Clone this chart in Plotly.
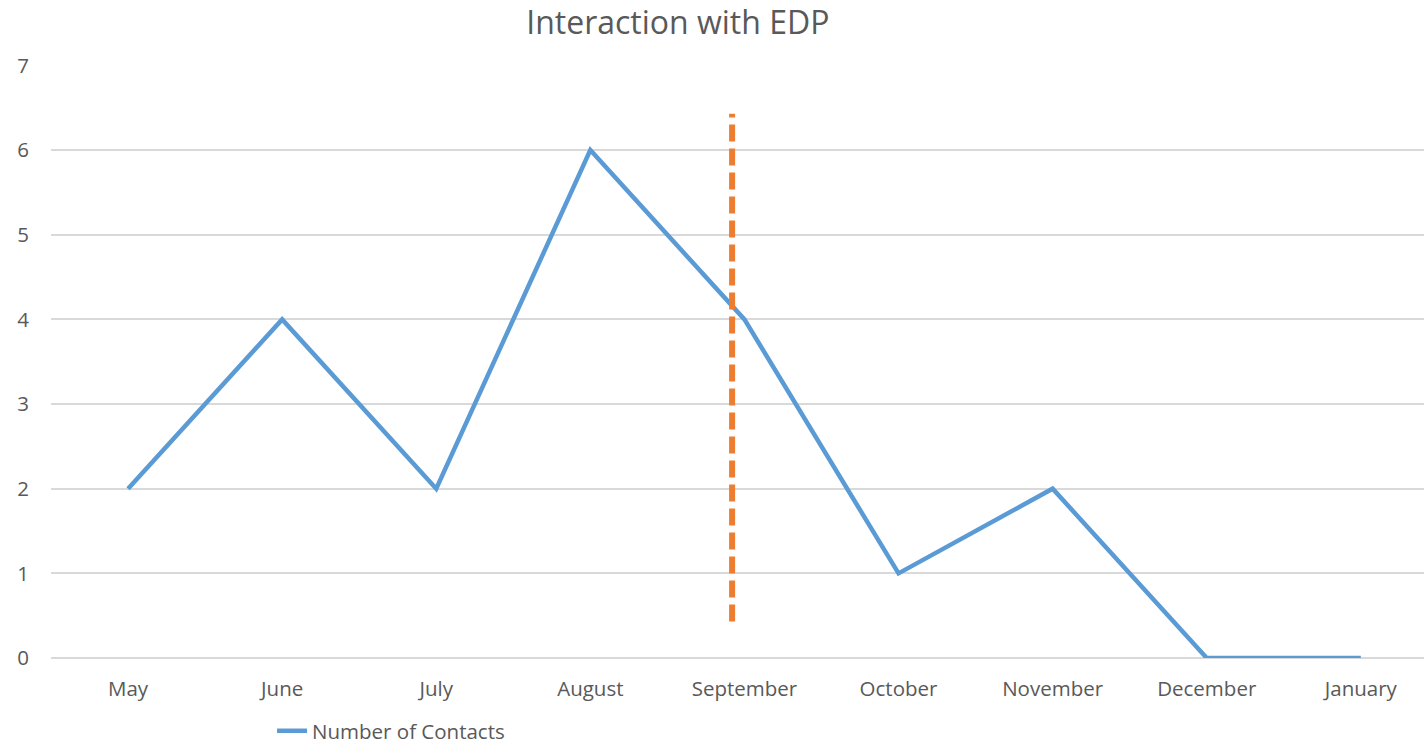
import plotly.graph_objects as go

months = ["May", "June", "July", "August", "September", "October", "November", "December", "January"]
contacts = [2, 4, 2, 6, 4, 1, 2, 0, 0]
marker_x = [3.92, 3.92]
marker_y = [0.43, 6.43]
y_ticks = [0, 1, 2, 3, 4, 5, 6, 7]

FONT = "Open Sans"
GREY = "#595959"

fig = go.Figure()
fig.add_trace(go.Scatter(
    x=list(range(len(months))), y=contacts, mode="lines",
    name="Number of Contacts",
    line=dict(color="#5B9BD5", width=4.5),
))
fig.add_trace(go.Scatter(
    x=marker_x, y=marker_y, mode="lines", showlegend=False,
    line=dict(color="#ED7D31", width=6, dash="17px,7px"),
))

fig.update_layout(
    width=1424, height=745,
    margin=dict(l=51, r=0, t=65, b=87, autoexpand=False),
    paper_bgcolor="white", plot_bgcolor="white",
    font=dict(family=FONT, color=GREY, size=20.5),
    title=dict(text="Interaction with EDP", x=0.476, xanchor="center",
               y=0.969, yanchor="middle",
               font=dict(family=FONT, size=32, color=GREY)),
    xaxis=dict(range=[-0.5, 8.41], tickvals=list(range(len(months))), ticktext=months,
               showgrid=False, zeroline=False, showline=False, ticks="",
               automargin=False,
               ticklabelstandoff=16, tickfont=dict(size=20.5, color=GREY)),
    yaxis=dict(range=[0, 7.005], tickvals=y_ticks, showgrid=True, gridcolor="#D9D9D9",
               gridwidth=1.5, zeroline=True, zerolinecolor="#D9D9D9", zerolinewidth=1.5,
               showline=False, ticks="", ticklabelstandoff=21, automargin=False,
               tickfont=dict(size=20.5, color=GREY)),
    showlegend=True,
    legend=dict(orientation="h", x=0.161, xanchor="left", y=-0.123, yanchor="middle",
                font=dict(size=20.5, color=GREY), bgcolor="rgba(0,0,0,0)"),
)

fig.write_html(
    "out.html",
    config={"displayModeBar": False},
    post_script="document.body.style.margin='0';document.body.style.overflow='hidden';",
)
